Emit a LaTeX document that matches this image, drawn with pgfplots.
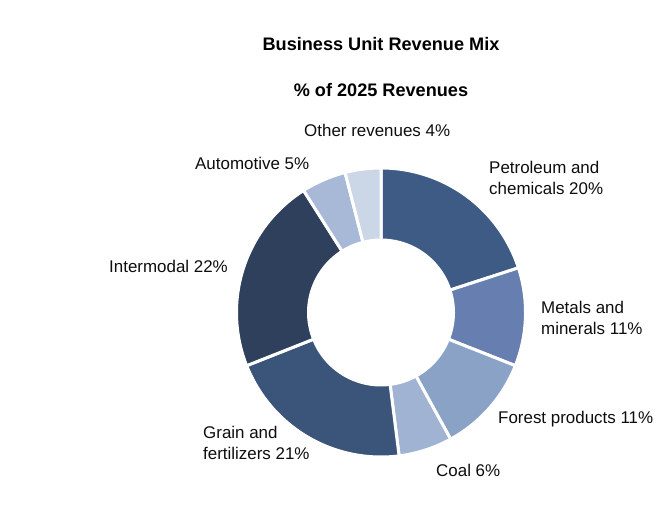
\documentclass[border=0pt]{standalone}
\usepackage{pgfplots}
\pgfplotsset{compat=1.18}
\usepackage{fontspec}
\setmainfont{Liberation Sans}
\definecolor{cPet}{HTML}{3E5B86}
\definecolor{cMet}{HTML}{667FB0}
\definecolor{cFor}{HTML}{8AA2C6}
\definecolor{cCoal}{HTML}{A0B3D3}
\definecolor{cGrain}{HTML}{3B5479}
\definecolor{cInter}{HTML}{2E405C}
\definecolor{cAuto}{HTML}{A7B9D6}
\definecolor{cOther}{HTML}{CBD6E7}
\def\cum{0}
\newcommand\slice[2]{%
 \pgfmathsetmacro\sa{90-3.6*(\cum+#1)}%
 \pgfmathsetmacro\sb{90-3.6*\cum}%
 \edef\temp{\noexpand\addplot[fill=#2, draw=white, line width=3bp, domain=\sa:\sb, samples=90] ({381+144.5*cos(x)},{209.5+144.5*sin(x)}) -- (axis cs:381,209.5) -- cycle;}%
 \temp
 \pgfmathsetmacro\newcum{\cum+#1}\global\let\cum\newcum}
\tikzset{lbl/.style={font=\fontsize{17}{21}\selectfont, text=black!95, inner sep=0pt}}
\begin{document}
\begin{tikzpicture}
\begin{axis}[
  scale only axis, width=666bp, height=522bp,
  xmin=0, xmax=666, ymin=0, ymax=522,
  axis line style={draw=none}, ticks=none, clip=false
]
\slice{20}{cPet}
\slice{11}{cMet}
\slice{11}{cFor}
\slice{6}{cCoal}
\slice{21}{cGrain}
\slice{22}{cInter}
\slice{5}{cAuto}
\slice{4}{cOther}
\addplot[fill=white, draw=none, domain=0:360, samples=120] ({381+74*cos(x)},{209.5+74*sin(x)}) -- cycle;
\node[font=\bfseries\fontsize{18.2}{20}\selectfont, text=black, inner sep=0pt] at (axis cs:381,478) {Business Unit Revenue Mix};
\node[font=\bfseries\fontsize{18.2}{20}\selectfont, text=black, inner sep=0pt] at (axis cs:381,432) {\% of 2025 Revenues};
\node[lbl, anchor=west] at (axis cs:304,392) {Other revenues 4\%};
\node[lbl, anchor=west] at (axis cs:195,359) {Automotive 5\%};
\node[lbl, anchor=west, align=left] at (axis cs:489,344.5) {Petroleum and\\chemicals 20\%};
\node[lbl, anchor=west, align=left] at (axis cs:541,204.5) {Metals and\\minerals 11\%};
\node[lbl, anchor=west] at (axis cs:498,103) {Forest products 11\%};
\node[lbl, anchor=west] at (axis cs:436,52) {Coal 6\%};
\node[lbl, anchor=west, align=left] at (axis cs:203,79.5) {Grain and\\fertilizers 21\%};
\node[lbl, anchor=west] at (axis cs:109,256) {Intermodal 22\%};
\end{axis}
\end{tikzpicture}
\end{document}
